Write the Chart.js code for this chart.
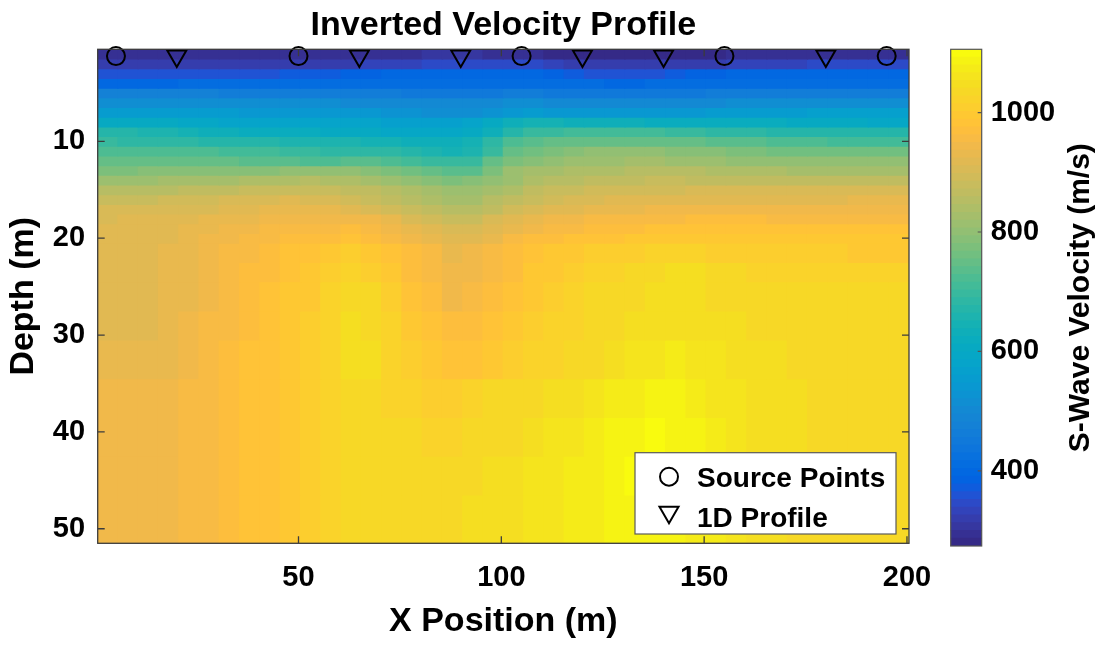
<!DOCTYPE html>
<html>
<head>
<meta charset="utf-8">
<title>Inverted Velocity Profile</title>
<script src="https://cdn.jsdelivr.net/npm/chart.js"></script>
<style>
  html, body { margin: 0; padding: 0; background: #ffffff; }
  #wrap { position: relative; width: 1102px; height: 645px; overflow: hidden; background: #ffffff; }
  #main { position: absolute; left: 0; top: 0; }
  #cbar { position: absolute; left: 930px; top: 0; }
</style>
</head>
<body>
<div id="wrap">
  <canvas id="main" width="1102" height="645"></canvas>
  <canvas id="cbar" width="172" height="645"></canvas>
</div>
<script>
// ------------------------------------------------------------------ data
const xCenters = [3,8,13,18,23,28,33,38,43,48,53,58,63,68,73,78,83,88,93,98,103,108,113,118,123,128,133,138,143,148,153,158,163,168,173,178,183,188,193,198];
const depthEdges = [0.5,1.5,2.5,3.5,4.5,5.5,6.5,7.5,8.5,9.5,10.5,11.5,12.5,13.5,14.5,15.5,16.5,17.5,18.5,19.5,20.5,22.5,24.5,27.5,30.5,34.5,38.5,42.5,46.5,51.5];
// S-wave velocity (m/s), one row per depth layer, one value per x column
const velocity = [
 [292,292,292,292,292,291,291,291,291,291,291,292,293,294,296,298,300,300,300,298,294,290,284,281,280,280,280,281,282,284,286,288,290,292,293,294,294,294,294,294],
 [318,318,318,318,318,318,318,318,318,319,320,322,325,329,334,338,341,343,344,345,345,342,334,325,320,317,316,316,318,321,325,329,332,335,337,339,341,343,345,347],
 [360,360,360,360,360,360,360,362,364,366,368,372,380,390,395,396,397,398,398,397,395,392,385,370,364,362,362,363,368,378,388,392,394,395,396,396,396,396,396,396],
 [402,402,403,403,404,404,405,408,409,410,410,411,411,412,412,412,413,413,413,413,412,410,408,405,404,403,403,404,405,408,410,411,412,412,412,412,413,413,414,414],
 [472,472,471,470,470,469,468,467,466,465,464,462,460,458,456,455,454,454,454,455,458,458,455,452,450,449,449,450,452,455,458,460,461,462,462,462,462,462,462,462],
 [516,516,515,515,514,514,513,512,511,510,509,508,506,503,500,499,498,498,499,502,508,508,505,501,499,498,498,499,501,504,507,509,510,511,512,512,512,513,513,513],
 [555,555,554,553,552,550,547,544,542,540,540,539,538,536,532,526,520,516,515,525,545,550,546,541,540,539,539,540,541,545,550,553,556,558,559,560,560,561,561,561],
 [608,606,604,600,596,590,585,582,580,580,579,578,576,573,570,568,567,568,580,605,632,645,640,633,630,628,626,624,620,617,615,614,613,612,610,606,603,600,598,597],
 [672,668,662,655,646,636,628,622,618,615,612,608,604,600,597,594,592,592,600,630,670,690,700,705,710,712,712,708,702,695,688,682,678,675,672,670,668,666,665,664],
 [690,688,685,682,678,674,670,667,664,662,660,658,652,645,638,632,628,626,640,680,720,735,742,748,750,752,752,750,746,742,738,735,732,728,722,716,712,708,705,703],
 [722,722,721,720,719,717,714,710,705,698,690,682,680,680,678,665,655,642,660,700,745,765,775,790,795,795,795,795,792,788,782,776,770,766,764,762,760,760,760,760],
 [752,752,751,750,748,745,742,740,736,730,722,728,735,735,728,712,702,692,700,745,775,790,800,810,815,818,820,820,818,815,810,805,800,797,795,795,795,795,795,795],
 [780,780,781,782,784,786,788,790,793,797,800,806,804,785,770,758,745,730,740,780,810,825,832,838,842,845,848,850,850,848,845,840,836,833,830,830,830,830,830,830],
 [815,816,818,820,823,827,831,835,839,843,846,845,840,830,815,805,790,780,785,800,815,835,850,858,862,866,870,872,872,870,868,866,864,862,860,860,860,860,860,860],
 [850,851,853,856,860,864,868,872,876,878,878,875,868,860,850,838,828,810,810,830,845,860,872,880,885,890,893,895,897,898,898,898,898,898,898,898,898,898,898,898],
 [880,881,883,886,890,895,900,906,910,912,910,900,890,880,868,855,845,828,830,848,865,880,892,902,908,912,915,918,920,922,922,922,922,922,922,922,923,924,925,925],
 [900,900,901,903,906,910,915,920,925,928,928,925,918,908,895,880,868,850,852,870,888,902,912,920,926,930,934,937,939,940,940,940,940,940,940,940,940,940,940,940],
 [910,911,913,916,920,926,931,935,938,940,940,945,948,940,925,910,895,880,882,900,915,928,938,945,950,955,958,960,962,963,963,963,963,962,962,962,962,962,962,962],
 [915,916,918,922,928,935,940,945,950,955,958,962,965,958,940,925,912,898,900,915,930,945,955,962,968,972,975,978,980,980,980,980,980,980,980,980,980,980,980,980],
 [916,917,919,923,930,938,945,952,960,966,970,975,980,970,955,940,925,915,918,935,950,965,975,982,986,988,990,992,993,993,992,991,990,990,990,990,990,990,990,990],
 [918,919,921,925,932,942,950,960,970,980,988,995,1002,995,980,965,950,935,938,955,968,980,990,998,1005,1010,1014,1016,1018,1016,1014,1012,1010,1008,1005,1003,1002,1000,1000,1000],
 [920,920,922,926,934,944,953,963,974,984,994,1005,1015,1010,995,975,958,940,942,960,975,990,1000,1010,1018,1025,1032,1040,1045,1042,1035,1028,1022,1020,1018,1018,1018,1020,1020,1020],
 [920,920,921,925,935,948,958,968,980,990,1000,1015,1035,1030,1005,985,965,948,955,975,988,1000,1010,1020,1028,1035,1040,1045,1045,1042,1038,1034,1030,1028,1028,1028,1030,1030,1030,1030],
 [920,920,922,928,938,952,962,972,984,994,1005,1025,1045,1040,1015,1000,985,965,968,980,995,1005,1015,1025,1032,1040,1045,1050,1052,1050,1046,1042,1040,1038,1038,1038,1038,1040,1040,1040],
 [925,925,927,933,943,955,966,976,988,998,1008,1025,1045,1042,1020,1010,995,982,985,995,1005,1015,1022,1030,1040,1050,1060,1066,1068,1062,1055,1048,1044,1042,1040,1040,1040,1040,1040,1040],
 [945,945,946,948,952,960,968,978,988,996,1006,1020,1038,1040,1025,1018,1012,1010,1018,1028,1030,1038,1045,1052,1062,1070,1078,1082,1082,1075,1065,1055,1048,1044,1042,1040,1040,1040,1040,1040],
 [945,945,946,948,952,960,968,978,988,997,1008,1022,1038,1040,1032,1028,1025,1025,1030,1035,1040,1048,1055,1062,1072,1082,1090,1095,1092,1082,1070,1060,1050,1045,1042,1040,1040,1038,1038,1038],
 [945,945,946,948,952,960,968,978,988,997,1008,1022,1038,1040,1035,1035,1035,1036,1040,1045,1048,1055,1062,1070,1078,1088,1095,1098,1095,1085,1072,1060,1050,1045,1040,1038,1036,1035,1035,1035],
 [945,945,946,948,952,960,968,978,988,997,1008,1022,1036,1040,1036,1036,1036,1038,1042,1048,1050,1056,1062,1068,1075,1082,1088,1088,1085,1078,1068,1058,1050,1045,1040,1037,1035,1035,1035,1035]
];
const sourceX = [5, 50, 105, 155, 195];
const sourceDepth = [1.2, 1.2, 1.2, 1.2, 1.2];
const profileX = [20, 65, 90, 120, 140, 180];
const profileDepth = [1.2, 1.2, 1.2, 1.2, 1.2, 1.2];
const xTickValues = [50, 100, 150, 200];
const depthTickValues = [10, 20, 30, 40, 50];
const velocityTickValues = [400, 600, 800, 1000];
const xLimits = [0.5, 200.5];
const depthLimits = [0.5, 51.5];
const velocityLimits = [274, 1106];

// ------------------------------------------------------------------ style
const FONT = "'Liberation Sans', Arial, Helvetica, sans-serif";
Chart.defaults.font.family = FONT;
Chart.defaults.color = '#000';
const TICK_FONT = { size: 29, weight: 'bold' };
const plainLabel = v => String(v);

// MATLAB parula colormap (64 entries)
const parula = [[53,42,135],[54,48,147],[54,55,160],[53,61,173],[50,67,186],[44,74,199],[32,83,212],[15,92,221],
[3,99,225],[2,104,225],[4,109,224],[8,113,222],[13,117,220],[16,121,218],[18,125,216],[20,129,214],
[20,133,212],[19,137,211],[16,142,210],[12,147,210],[9,152,209],[7,156,207],[6,160,205],[6,164,202],
[6,167,198],[7,169,194],[10,172,190],[15,174,185],[21,177,180],[29,179,175],[37,181,169],[46,183,164],
[56,185,158],[66,187,152],[77,188,146],[89,189,140],[101,190,134],[113,191,128],[124,191,123],[135,191,119],
[146,191,115],[156,191,111],[165,190,107],[174,190,103],[183,189,100],[192,188,96],[200,188,93],[209,187,89],
[217,186,86],[225,185,82],[233,185,78],[241,185,74],[248,187,68],[253,190,61],[255,195,55],[254,200,50],
[252,206,46],[250,211,42],[247,216,38],[245,222,33],[245,228,29],[245,235,24],[246,243,19],[249,251,14]];
const rgb = c => `rgb(${c[0]},${c[1]},${c[2]})`;
function velocityColor(v) {
  const t = (v - velocityLimits[0]) / (velocityLimits[1] - velocityLimits[0]);
  const i = Math.max(0, Math.min(parula.length - 1, Math.floor(t * parula.length)));
  return rgb(parula[i]);
}

function drawMarker(ctx, style, radius, rotationDeg, x, y) {
  ctx.beginPath();
  if (style === 'circle') {
    ctx.arc(x, y, radius, 0, Math.PI * 2);
  } else {
    let rad = rotationDeg * Math.PI / 180;
    for (let k = 0; k < 3; k++) {
      const px = x + Math.sin(rad) * radius, py = y - Math.cos(rad) * radius;
      if (k === 0) ctx.moveTo(px, py); else ctx.lineTo(px, py);
      rad += 2 * Math.PI / 3;
    }
    ctx.closePath();
  }
  ctx.stroke();
}

// ------------------------------------------------------------------ plugins
const titlePlugin = {
  id: 'plotTitle',
  afterDraw(chart) {
    const { ctx, chartArea: a } = chart;
    ctx.save();
    ctx.font = `bold 34px ${FONT}`;
    ctx.fillStyle = '#000';
    ctx.textAlign = 'center';
    ctx.textBaseline = 'alphabetic';
    ctx.fillText('Inverted Velocity Profile', (a.left + a.right) / 2, a.top - 14.3);
    ctx.restore();
  }
};

const framePlugin = {
  id: 'axesFrame',
  afterDatasetsDraw(chart) {
    const { ctx, chartArea: a, scales: { x, y } } = chart;
    ctx.save();
    ctx.strokeStyle = '#3c3c3c';
    ctx.lineWidth = 1.3;
    ctx.beginPath();
    x.ticks.forEach(t => {
      const p = x.getPixelForValue(t.value);
      ctx.moveTo(p, a.bottom); ctx.lineTo(p, a.bottom - 7);
      ctx.moveTo(p, a.top); ctx.lineTo(p, a.top + 7);
    });
    y.ticks.forEach(t => {
      const p = y.getPixelForValue(t.value);
      ctx.moveTo(a.left, p); ctx.lineTo(a.left + 7, p);
      ctx.moveTo(a.right, p); ctx.lineTo(a.right - 7, p);
    });
    ctx.stroke();
    ctx.strokeRect(a.left, a.top, a.right - a.left, a.bottom - a.top);
    ctx.restore();
  }
};

const legendPlugin = {
  id: 'boxLegend',
  afterDraw(chart) {
    const { ctx, chartArea: a } = chart;
    const entries = chart.data.datasets.filter(d => d.type === 'scatter');
    const w = 261, h = 81.3;
    const bx = a.right - 13 - w, by = a.bottom - 9.3 - h;
    ctx.save();
    ctx.fillStyle = '#ffffff';
    ctx.fillRect(bx, by, w, h);
    ctx.strokeStyle = '#5a5a5a';
    ctx.lineWidth = 1.2;
    ctx.strokeRect(bx, by, w, h);
    const markerY = [by + 24, by + 59.5];
    const textY = [by + 34, by + 74];
    entries.forEach((d, i) => {
      ctx.strokeStyle = '#000';
      ctx.lineWidth = d.pointBorderWidth;
      drawMarker(ctx, d.pointStyle, d.pointRadius, d.pointRotation || 0, bx + 34, markerY[i]);
      ctx.fillStyle = '#000';
      ctx.font = `bold 28px ${FONT}`;
      ctx.textAlign = 'left';
      ctx.textBaseline = 'alphabetic';
      ctx.fillText(d.label, bx + 62, textY[i]);
    });
    ctx.restore();
  }
};

// ------------------------------------------------------------------ main chart
const heatDatasets = velocity.map((row, r) => ({
  type: 'bar',
  label: 'layer ' + (r + 1),
  data: xCenters.map(x => ({ x: x, y: [depthEdges[r], depthEdges[r + 1]] })),
  backgroundColor: row.map(velocityColor),
  borderWidth: 0,
  inflateAmount: 0.6,
  grouped: false,
  barPercentage: 1,
  categoryPercentage: 1,
  order: 2
}));

const markerDatasets = [
  {
    type: 'scatter', label: 'Source Points',
    data: sourceX.map((x, i) => ({ x: x, y: sourceDepth[i] })),
    pointStyle: 'circle', pointRadius: 9, pointBorderWidth: 2,
    pointBorderColor: '#000', pointBackgroundColor: 'rgba(0,0,0,0)',
    clip: false, order: 0
  },
  {
    type: 'scatter', label: '1D Profile',
    data: profileX.map((x, i) => ({ x: x, y: profileDepth[i] })),
    pointStyle: 'triangle', pointRotation: 180, pointRadius: 11, pointBorderWidth: 2,
    pointBorderColor: '#000', pointBackgroundColor: 'rgba(0,0,0,0)',
    clip: false, order: 0
  }
];

new Chart(document.getElementById('main'), {
  type: 'bar',
  data: { datasets: heatDatasets.concat(markerDatasets) },
  options: {
    responsive: false,
    animation: false,
    events: [],
    layout: { padding: { left: 0, right: 193, top: 49.3, bottom: 0 } },
    plugins: { legend: { display: false }, tooltip: { enabled: false }, title: { display: false } },
    scales: {
      x: {
        type: 'linear', position: 'bottom', min: xLimits[0], max: xLimits[1], offset: false,
        grid: { display: false, drawTicks: false, offset: false },
        border: { display: false },
        afterBuildTicks: s => { s.ticks = xTickValues.map(v => ({ value: v })); },
        ticks: { autoSkip: false, maxRotation: 0, padding: 16.8, color: '#000', font: TICK_FONT, callback: plainLabel },
        title: { display: true, text: 'X Position (m)', color: '#000', font: { size: 34, weight: 'bold' }, padding: { top: 0, bottom: 2.7 } },
        afterFit: s => { s.height = 101.7; }
      },
      y: {
        type: 'linear', position: 'left', min: depthLimits[0], max: depthLimits[1], reverse: true,
        grid: { display: false, drawTicks: false },
        border: { display: false },
        afterBuildTicks: s => { s.ticks = depthTickValues.map(v => ({ value: v })); },
        ticks: { autoSkip: false, padding: 12.6, color: '#000', font: TICK_FONT, callback: plainLabel },
        title: { display: true, text: 'Depth (m)', color: '#000', font: { size: 34, weight: 'bold' }, padding: { top: 3.6, bottom: 0 } },
        afterFit: s => { s.width = 97.7; }
      }
    }
  },
  plugins: [titlePlugin, framePlugin, legendPlugin]
});

// ------------------------------------------------------------------ colorbar
const cbStep = (velocityLimits[1] - velocityLimits[0]) / parula.length;
const cbDatasets = parula.map((c, i) => ({
  label: 'level ' + i,
  data: [[velocityLimits[0] + i * cbStep, velocityLimits[0] + (i + 1) * cbStep]],
  backgroundColor: rgb(c),
  borderWidth: 0,
  inflateAmount: 0.4,
  grouped: false,
  barPercentage: 1,
  categoryPercentage: 1
}));

const cbarPlugin = {
  id: 'cbarDecor',
  afterDatasetsDraw(chart) {
    const { ctx, chartArea: a, scales: { y } } = chart;
    ctx.save();
    ctx.strokeStyle = '#555';
    ctx.lineWidth = 1.2;
    ctx.beginPath();
    y.ticks.forEach(t => {
      const p = y.getPixelForValue(t.value);
      ctx.moveTo(a.right, p); ctx.lineTo(a.right - 4, p);
    });
    ctx.stroke();
    ctx.strokeRect(a.left, a.top, a.right - a.left, a.bottom - a.top);
    ctx.translate(a.right + 99.3, (a.top + a.bottom) / 2);
    ctx.rotate(-Math.PI / 2);
    ctx.font = `bold 30px ${FONT}`;
    ctx.fillStyle = '#000';
    ctx.textAlign = 'center';
    ctx.textBaseline = 'middle';
    ctx.fillText('S-Wave Velocity (m/s)', 0, 0);
    ctx.restore();
  }
};

new Chart(document.getElementById('cbar'), {
  type: 'bar',
  data: { labels: [''], datasets: cbDatasets },
  options: {
    responsive: false,
    animation: false,
    events: [],
    layout: { padding: { left: 20.7, right: 0, top: 49.3, bottom: 99 } },
    plugins: { legend: { display: false }, tooltip: { enabled: false } },
    scales: {
      x: { display: false },
      y: {
        position: 'right', min: velocityLimits[0], max: velocityLimits[1],
        grid: { display: false, drawTicks: false },
        border: { display: false },
        afterBuildTicks: s => { s.ticks = velocityTickValues.map(v => ({ value: v })); },
        ticks: { autoSkip: false, padding: 9, color: '#000', font: TICK_FONT, callback: plainLabel },
        afterFit: s => { s.width = 120.3; }
      }
    }
  },
  plugins: [cbarPlugin]
});
</script>
</body>
</html>
